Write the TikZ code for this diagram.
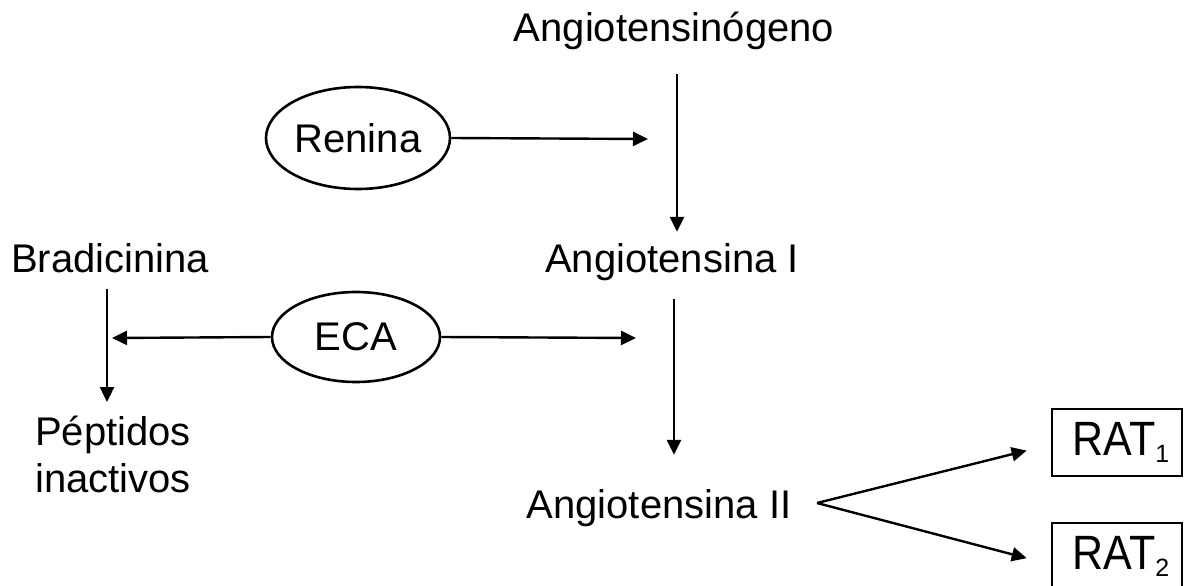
\documentclass[tikz,border=0pt]{standalone}
\usepackage{fontspec}
\setmainfont{Liberation Sans}
\usetikzlibrary{arrows.meta}
\usetikzlibrary{shapes.geometric}

\begin{document}
\begin{tikzpicture}[x=1pt,y=-1pt,
	lbl/.style={font=\fontsize{40}{47}\selectfont,inner sep=0pt},
	enzima/.style={draw,ellipse,line width=2.6pt,inner sep=0pt,font=\fontsize{40}{47}\selectfont},
	receptor/.style={draw,line width=2.2pt,minimum width=130pt,minimum height=67pt,inner sep=0pt,font=\fontsize{43}{47}\selectfont},
	flecha/.style={line width=2.4pt,-{Triangle[length=15pt,width=14pt]}}]
	\useasboundingbox (0,0) rectangle (1184,586);
	\clip (0,0) rectangle (1184,586);
	% cascada principal
	\node[lbl,anchor=base] (angiotensinogeno) at (674,42) {Angiotensinógeno};
	\node[lbl,anchor=base] (ang1) at (672,272) {Angiotensina I};
	\node[lbl,anchor=base] (ang2) at (659,518) {Angiotensina II};
	\node[lbl,anchor=base] (brad) at (110,272) {Bradicinina};
	\node[lbl,anchor=base west,align=left] (peptidos) at (35,492) {Péptidos\\inactivos};
	% enzimas
	\node[enzima,minimum width=184pt,minimum height=102pt] (renina) at (358,138) {Renina};
	\node[enzima,minimum width=168pt,minimum height=90pt] (eca) at (356,337) {ECA};
	% receptores
	\node[receptor] (rat1) at (1117,442.5) {\hspace*{8pt}\scalebox{1}[1.12]{RAT}\raisebox{-7pt}{\fontsize{25}{25}\selectfont 1}};
	\node[receptor] (rat2) at (1117,556.5) {\hspace*{8pt}\scalebox{1}[1.12]{RAT}\raisebox{-7pt}{\fontsize{25}{25}\selectfont 2}};
	\coordinate (rtip) at (648,139);
	\coordinate (ecaizq) at (112,338);
	\coordinate (ecader) at (636,338);
	\coordinate (bif) at (817,503);
	% flechas
	\draw[flecha,shorten <=23pt,shorten >=11pt] ([xshift=3pt]angiotensinogeno.south) -- ([xshift=5pt]ang1.north);
	\draw[flecha,shorten <=18pt,shorten >=34pt] ([xshift=2pt]ang1.south) -- ([xshift=15pt]ang2.north);
	\draw[flecha,shorten <=16pt] ([xshift=-3pt]brad.south) -- (107,402);
	\draw[flecha] (renina.east) -- (rtip);
	\draw[flecha] (eca.west) -- (ecaizq);
	\draw[flecha] (eca.east) -- (ecader);
	\draw[flecha,shorten >=25pt] (bif) -- ([yshift=-2pt]rat1.west);
	\draw[flecha,shorten >=25pt] (bif) -- ([yshift=-8pt]rat2.west);
\end{tikzpicture}
\end{document}
